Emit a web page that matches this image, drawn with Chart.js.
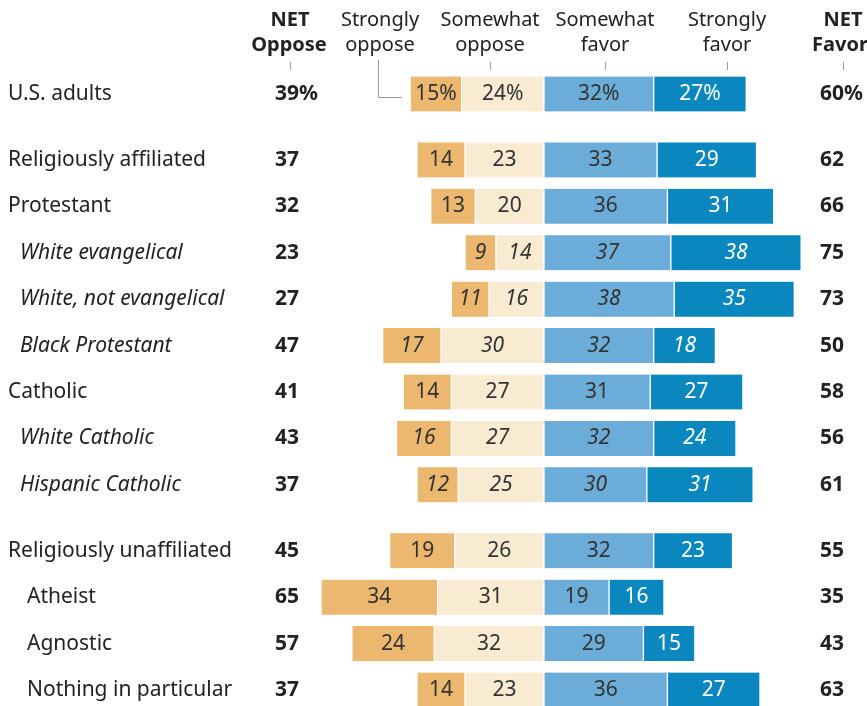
<!DOCTYPE html>
<html>
<head>
<meta charset="utf-8">
<script src="https://cdn.jsdelivr.net/npm/chart.js@4.4.1/dist/chart.umd.min.js"></script>
<style>
  body { margin: 0; background: #fff; }
  canvas { display: block; }
</style>
</head>
<body>
<canvas id="myChart" width="867" height="706"></canvas>
<script>
// rows, top to bottom
const rows = ['U.S. adults', 'Religiously affiliated', 'Protestant', 'White evangelical',
  'White, not evangelical', 'Black Protestant', 'Catholic', 'White Catholic',
  'Hispanic Catholic', 'Religiously unaffiliated', 'Atheist', 'Agnostic', 'Nothing in particular'];
// 0 = total, 1 = affiliated block, 2 = unaffiliated block
const groups = [0, 1, 1, 1, 1, 1, 1, 1, 1, 2, 2, 2, 2];
// 0 = plain, 1 = italic subgroup, 2 = plain subgroup
const rowKind = [0, 0, 0, 1, 1, 1, 0, 1, 1, 0, 2, 2, 2];

const stronglyOppose = [15, 14, 13, 9, 11, 17, 14, 16, 12, 19, 34, 24, 14];
const somewhatOppose = [24, 23, 20, 14, 16, 30, 27, 27, 25, 26, 31, 32, 23];
const somewhatFavor  = [32, 33, 36, 37, 38, 32, 31, 32, 30, 32, 19, 29, 36];
const stronglyFavor  = [27, 29, 31, 38, 35, 18, 27, 24, 31, 23, 16, 15, 27];
const netOppose = [39, 37, 32, 23, 27, 47, 41, 43, 37, 45, 65, 57, 37];
const netFavor  = [60, 62, 66, 75, 73, 50, 58, 56, 61, 55, 35, 43, 63];

const colors = ['#ecb86f', '#f9ead2', '#6badd8', '#0b87c0'];
const labelFont = '"Noto Sans", sans-serif';

// row position on the y axis: index plus a little extra space between blocks
const rowPos = rows.map((r, i) => i + groups[i] * 0.42);

function segs(i) {
  const a = stronglyOppose[i], b = somewhatOppose[i], c = somewhatFavor[i], d = stronglyFavor[i];
  return [[-(a + b), -b], [-b, 0], [0, c], [c, c + d]];
}
const seriesVals = [stronglyOppose, somewhatOppose, somewhatFavor, stronglyFavor];
const seriesNames = ['Strongly oppose', 'Somewhat oppose', 'Somewhat favor', 'Strongly favor'];

const datasets = seriesNames.map((name, k) => ({
  label: name,
  data: rows.map((r, i) => ({ x: segs(i)[k], y: rowPos[i] })),
  backgroundColor: colors[k],
  borderColor: '#fff',
  borderWidth: { left: 1, right: 1, top: 0, bottom: 0 },
  borderSkipped: false,
  barThickness: 35,
  grouped: false
}));

const textPlugin = {
  id: 'texts',
  afterDatasetsDraw(chart) {
    const ctx = chart.ctx;
    const xs = chart.scales.x, ys = chart.scales.y;
    ctx.save();
    ctx.textBaseline = 'middle';

    // headers
    ctx.fillStyle = '#222';
    ctx.textAlign = 'center';
    ctx.font = 'bold 20px ' + labelFont;
    ctx.fillText('NET', 290, 20);
    ctx.fillText('Oppose', 289, 45);
    ctx.fillText('NET', 843, 20);
    ctx.fillText('Favor', 840, 45);
    ctx.font = '20px ' + labelFont;
    ctx.fillText('Strongly', 380, 20);
    ctx.fillText('oppose', 380, 45);
    ctx.fillText('Somewhat', 490, 20);
    ctx.fillText('oppose', 490, 45);
    ctx.fillText('Somewhat', 605, 20);
    ctx.fillText('favor', 605, 45);
    ctx.fillText('Strongly', 727, 20);
    ctx.fillText('favor', 727, 45);

    // small tick marks and the leader line
    ctx.strokeStyle = '#999';
    ctx.lineWidth = 1;
    [290, 490, 605, 727, 843].forEach(x => {
      ctx.beginPath(); ctx.moveTo(x + 0.5, 62); ctx.lineTo(x + 0.5, 70); ctx.stroke();
    });
    ctx.beginPath();
    ctx.moveTo(378.5, 60); ctx.lineTo(378.5, 97.5); ctx.lineTo(402, 97.5); ctx.stroke();

    rows.forEach((r, i) => {
      const y = ys.getPixelForValue(rowPos[i]);
      const kind = rowKind[i];
      const it = kind === 1 ? 'italic ' : '';
      // row label
      ctx.textAlign = 'left';
      ctx.fillStyle = '#222';
      ctx.font = it + '21px ' + labelFont;
      ctx.fillText(r, kind === 0 ? 8 : (kind === 1 ? 20 : 27), y);
      // net columns
      const pct = i === 0 ? '%' : '';
      ctx.font = 'bold 21px ' + labelFont;
      ctx.fillText(netOppose[i] + pct, 275, y);
      ctx.fillText(netFavor[i] + pct, 820, y);
      // values inside the bars
      ctx.textAlign = 'center';
      ctx.font = it + '21px ' + labelFont;
      segs(i).forEach((s, k) => {
        const cx = xs.getPixelForValue((s[0] + s[1]) / 2);
        ctx.fillStyle = k === 3 ? '#fff' : '#333';
        ctx.fillText(seriesVals[k][i] + pct, cx, y);
      });
    });
    ctx.restore();
  }
};

new Chart(document.getElementById('myChart'), {
  type: 'bar',
  data: { datasets },
  options: {
    indexAxis: 'y',
    responsive: false,
    animation: false,
    layout: { padding: 0 },
    scales: {
      x: { type: 'linear', min: -158.6, max: 94.2, display: false, offset: false },
      y: { type: 'linear', reverse: true, min: -2.026, max: 13.185, display: false, offset: false }
    },
    plugins: { legend: { display: false }, tooltip: { enabled: false } }
  },
  plugins: [textPlugin]
});
</script>
</body>
</html>
